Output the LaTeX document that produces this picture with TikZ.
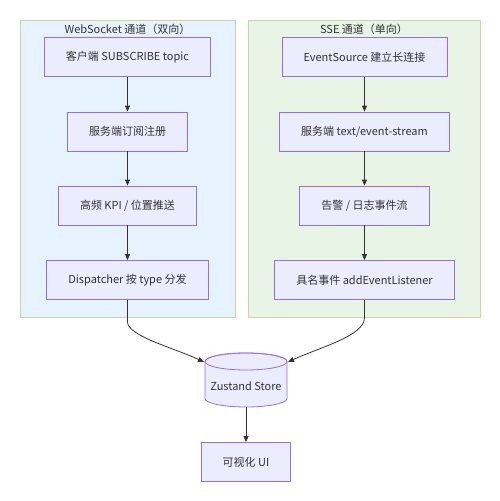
\documentclass[tikz,border=0pt]{standalone}
\usepackage{fontspec}
\setmainfont{Noto Sans CJK SC}
\usetikzlibrary{arrows.meta}

\definecolor{wsfill}{HTML}{E6F3FF}
\definecolor{ssefill}{HTML}{E8F5E6}
\definecolor{groupline}{HTML}{C9D8A3}
\definecolor{boxfill}{HTML}{ECECFF}
\definecolor{boxline}{HTML}{9370DB}
\definecolor{ink}{HTML}{333333}

\begin{document}
\begin{tikzpicture}[x=1pt, y=-1pt,
    font=\fontsize{11}{14}\selectfont, text=ink,
    stepbox/.style={draw=boxline, fill=boxfill, line width=0.8pt,
      inner xsep=21.5pt, minimum height=39pt},
    flow/.style={draw=ink, line width=0.8pt, -{Triangle[length=6pt,width=5pt]}}]

\useasboundingbox (0,0) rectangle (500,501);

% Channel groups
\draw[groupline, fill=wsfill, line width=1pt] (20,20) rectangle (235,317);
\draw[groupline, fill=ssefill, line width=1pt] (248,20) rectangle (480,317);
\node (wstitle) at (127.5,29) {WebSocket 通道（双向）};
\node (ssetitle) at (364,29) {SSE 通道（单向）};

% WebSocket steps
\node[stepbox] (ws1) at (127.5,57) {客户端 SUBSCRIBE topic};
\node[stepbox] (ws2) at (127.5,131.5) {服务端订阅注册};
\node[stepbox] (ws3) at (127.5,205.5) {高频 KPI / 位置推送};
\node[stepbox] (ws4) at (127.5,280) {Dispatcher 按 type 分发};

% SSE steps
\node[stepbox] (sse1) at (364.5,57) {EventSource 建立长连接};
\node[stepbox] (sse2) at (364.5,131.5) {服务端 text/event-stream};
\node[stepbox] (sse3) at (364.5,205.5) {告警 / 日志事件流};
\node[stepbox] (sse4) at (364.5,280) {具名事件 addEventListener};

% Store (cylinder drawn round the node)
\node[minimum width=82pt, minimum height=54pt] (store) at (246,380) {};
\draw[boxline, fill=boxfill, line width=0.8pt]
  (205,361.5) -- (205,398.5) arc[start angle=180, end angle=0, x radius=41, y radius=8.5]
  -- (287,361.5) arc[start angle=0, end angle=-180, x radius=41, y radius=8.5] -- cycle;
\draw[boxline, line width=0.8pt] (246,361.5) ellipse[x radius=41, y radius=8.5];
\node (storetext) at (246,386) {Zustand Store};
\coordinate (storeL) at (204,362);
\coordinate (storeR) at (288,362);

\node[stepbox] (ui) at (246,462) {可视化 UI};

% Connectors
\foreach \a/\b in {ws1/ws2, ws2/ws3, ws3/ws4, sse1/sse2, sse2/sse3, sse3/sse4}
  \draw[flow] (\a) -- (\b);
\draw[flow] (ws4.south) -- ++(0,22) .. controls +(0,14) and +(-30,-14) .. (storeL);
\draw[flow] (sse4.south) -- ++(0,18) .. controls +(0,18) and +(30,-14) .. (storeR);
\draw[flow] (246,407) -- (ui);

\end{tikzpicture}
\end{document}
